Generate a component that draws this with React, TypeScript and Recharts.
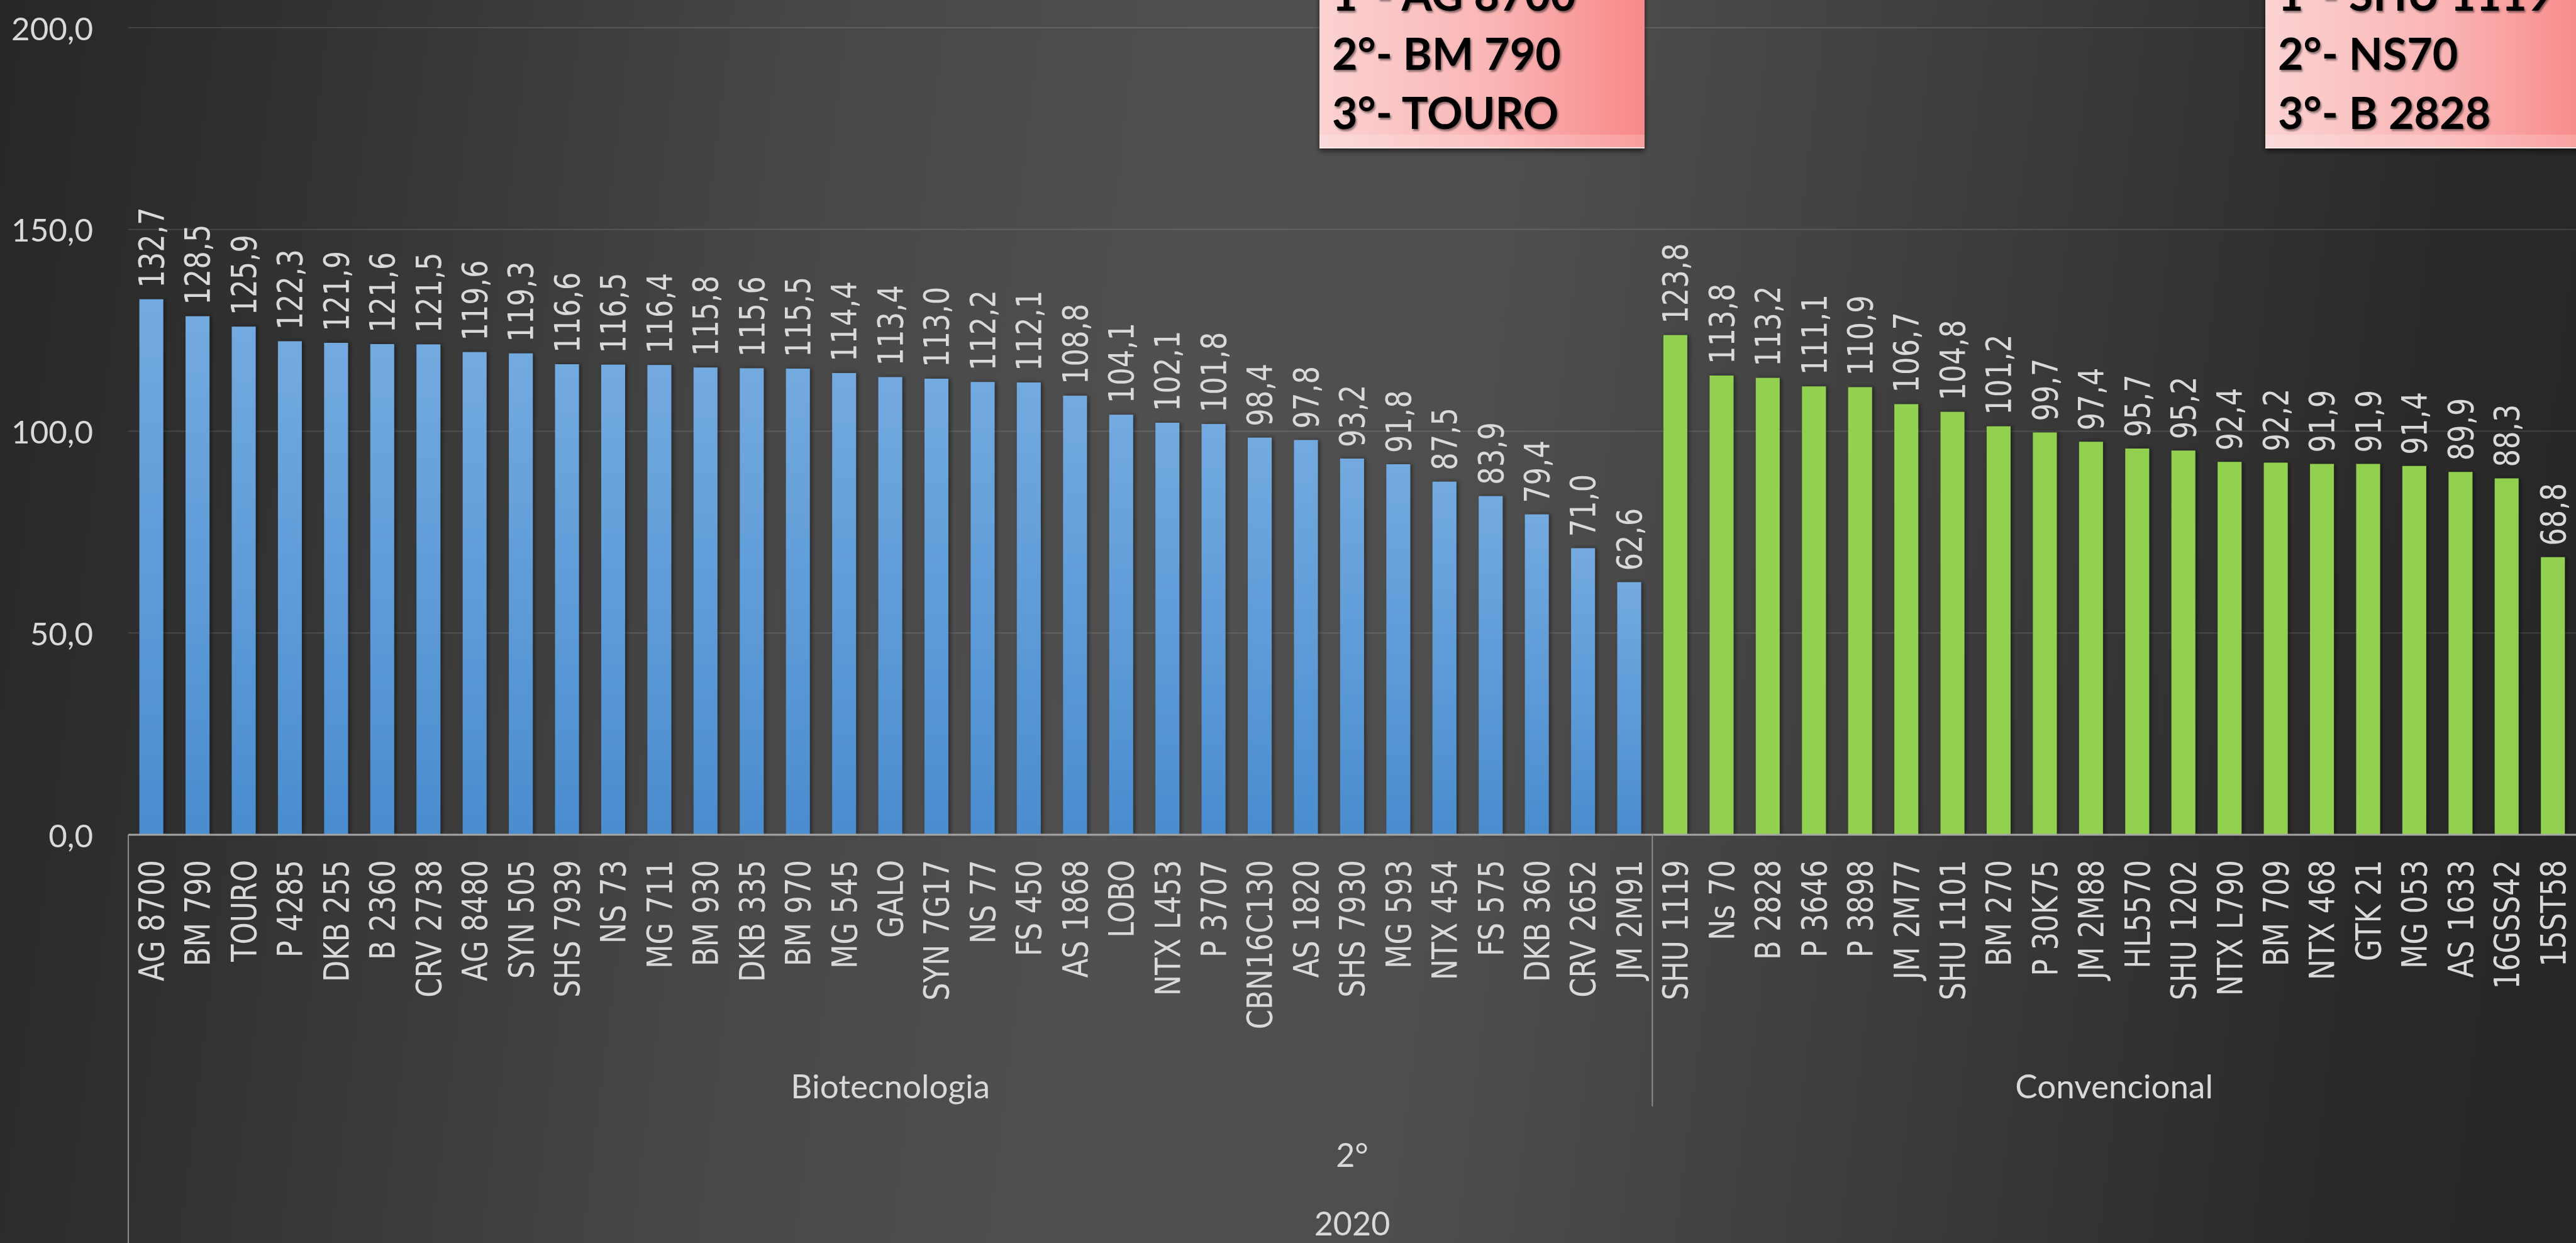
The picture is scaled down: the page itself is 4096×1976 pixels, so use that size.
import React from 'react';
import { BarChart, Bar, XAxis, YAxis, CartesianGrid, Cell, LabelList } from 'recharts';

// hybrids by group
const bioNames = [
  'AG 8700', 'BM 790', 'TOURO', 'P 4285', 'DKB 255', 'B 2360', 'CRV 2738', 'AG 8480', 'SYN 505',
  'SHS 7939', 'NS 73', 'MG 711', 'BM 930', 'DKB 335', 'BM 970', 'MG 545', 'GALO', 'SYN 7G17',
  'NS 77', 'FS 450', 'AS 1868', 'LOBO', 'NTX L453', 'P 3707', 'CBN16C130', 'AS 1820', 'SHS 7930',
  'MG 593', 'NTX 454', 'FS 575', 'DKB 360', 'CRV 2652', 'JM 2M91',
];
const bioValues = [
  132.7, 128.5, 125.9, 122.3, 121.9, 121.6, 121.5, 119.6, 119.3, 116.6, 116.5, 116.4, 115.8,
  115.6, 115.5, 114.4, 113.4, 113.0, 112.2, 112.1, 108.8, 104.1, 102.1, 101.8, 98.4, 97.8, 93.2,
  91.8, 87.5, 83.9, 79.4, 71.0, 62.6,
];
const convNames = [
  'SHU 1119', 'Ns 70', 'B 2828', 'P 3646', 'P 3898', 'JM 2M77', 'SHU 1101', 'BM 270', 'P 30K75',
  'JM 2M88', 'HL5570', 'SHU 1202', 'NTX L790', 'BM 709', 'NTX 468', 'GTK 21', 'MG 053', 'AS 1633',
  '16GSS42', '15ST58',
];
const convValues = [
  123.8, 113.8, 113.2, 111.1, 110.9, 106.7, 104.8, 101.2, 99.7, 97.4, 95.7, 95.2, 92.4, 92.2,
  91.9, 91.9, 91.4, 89.9, 88.3, 68.8,
];
const groupNames = ['Biotecnologia', 'Convencional'];
const yTicks = [0, 50, 100, 150, 200];
const positionLabel = '2°';
const yearLabel = '2020';
const bioPodium = ['1°- AG 8700', '2°- BM 790', '3°- TOURO'];
const convPodium = ['1°- SHU 1119', '2°- NS70', '3°- B 2828'];

const W = 4096;
const H = 1976;
const Y_AXIS_W = 204;
const TOP = 44;
const X_AXIS_H = 649;

const data = [
  ...bioNames.map((name, i) => ({ name, value: bioValues[i], group: 0 })),
  ...convNames.map((name, i) => ({ name, value: convValues[i], group: 1 })),
];
const pitch = (W - Y_AXIS_W) / data.length;

const fmt = (v: number) => v.toFixed(1).replace('.', ',');

const LABEL = '#d9d9d9';
const SANS = 'Lato, "Open Sans", sans-serif';
const WIDE = '"DejaVu Sans", Verdana, sans-serif';

function YTick({ x, y, payload }: any) {
  return (
    <text x={x} y={y} textAnchor="end" dominantBaseline="central" fill={LABEL} fontFamily={SANS} fontSize={51}>
      {fmt(payload.value)}
    </text>
  );
}

function CategoryTick({ x, y, payload, index }: any) {
  const d = data[index];
  const start = data.findIndex(r => r.group === d.group);
  const count = data.filter(r => r.group === d.group).length;
  const mid = start + Math.floor((count - 1) / 2);
  const allMid = Math.floor((data.length - 1) / 2);
  return (
    <g>
      <text
        transform={`translate(${x},${y + 40}) rotate(-90) scale(0.8,1)`}
        textAnchor="end"
        dominantBaseline="central"
        fill={LABEL}
        fontFamily={WIDE}
        fontSize={56}
      >
        {payload.value}
      </text>
      {index === 0 && (
        <line x1={x - pitch / 2} x2={x - pitch / 2} y1={y} y2={H} stroke="#8c8c8c" strokeWidth={2} />
      )}
      {index > 0 && index === start && (
        <line x1={x - pitch / 2} x2={x - pitch / 2} y1={y} y2={y + 432} stroke="#8c8c8c" strokeWidth={2} />
      )}
      {index === mid && (
        <text
          x={x + (count % 2 === 0 ? pitch / 2 : 0)}
          y={y + 398}
          textAnchor="middle"
          dominantBaseline="central"
          fill={LABEL}
          fontFamily={SANS}
          fontSize={53}
        >
          {groupNames[d.group]}
        </text>
      )}
      {index === allMid && (
        <g fill={LABEL} fontFamily={SANS} fontSize={52} textAnchor="middle" dominantBaseline="central">
          <text x={x} y={y + 508}>{positionLabel}</text>
          <text x={x} y={y + 617}>{yearLabel}</text>
        </g>
      )}
    </g>
  );
}

function ValueLabel({ x, y, width, value }: any) {
  return (
    <text
      transform={`translate(${x + width / 2},${y - 18}) rotate(-90) scale(0.8,1)`}
      textAnchor="start"
      dominantBaseline="central"
      fill={LABEL}
      fontFamily={WIDE}
      fontSize={56}
    >
      {fmt(value)}
    </text>
  );
}

function PodiumBox({ x, width, lines }: { x: number; width: number; lines: string[] }) {
  return (
    <g>
      <rect x={x} y={-20} width={width} height={256} fill="url(#boxGrad)" filter="url(#boxShadow)" />
      <rect x={x} y={214} width={width} height={22} fill="#ffffff" opacity={0.18} />
      <line x1={x} x2={x + width} y1={235} y2={235} stroke="#fde8e8" strokeWidth={2} />
      <g fontFamily={SANS} fontWeight={700} fontSize={70} fill="#000" filter="url(#textShadow)">
        {lines.map((t, i) => (
          <text key={t} x={x + 20} y={17 + i * 94}>{t}</text>
        ))}
      </g>
    </g>
  );
}

export default function App() {
  return (
    <div
      style={{
        position: 'fixed',
        left: 0,
        top: 0,
        width: W,
        height: H,
        overflow: 'hidden',
        background:
          'linear-gradient(97deg, #272727 0%, #303030 10%, #474747 30%, #505050 45%, #4e4e4e 57%, #3c3c3c 74%, #2a2a2a 90%, #262626 100%)',
      }}
    >
      <BarChart
        width={W}
        height={H}
        data={data}
        margin={{ top: TOP, right: 0, left: 0, bottom: 0 }}
        barCategoryGap="24%"
      >
        <defs>
          <linearGradient id="blueGrad" x1="0" y1="0" x2="0" y2="1">
            <stop offset="0%" stopColor="#73aae0" />
            <stop offset="100%" stopColor="#4a8dcf" />
          </linearGradient>
          <filter id="barShadow" x="-30%" y="-5%" width="160%" height="110%">
            <feDropShadow dx="3" dy="0" stdDeviation="3" floodColor="#000" floodOpacity="0.45" />
          </filter>
        </defs>
        <CartesianGrid vertical={false} stroke="rgba(255,255,255,0.12)" strokeWidth={2} />
        <YAxis
          domain={[0, 200]}
          ticks={yTicks}
          interval={0}
          width={Y_AXIS_W}
          axisLine={false}
          tickLine={false}
          tickSize={0}
          tickMargin={56}
          tick={(p: any) => <YTick {...p} />}
        />
        <XAxis
          dataKey="name"
          interval={0}
          height={X_AXIS_H}
          tickLine={false}
          tickSize={0}
          tickMargin={0}
          axisLine={{ stroke: '#a6a6a6', strokeWidth: 3 }}
          tick={(p: any) => <CategoryTick {...p} />}
        />
        <Bar dataKey="value" isAnimationActive={false}>
          {data.map(d => (
            <Cell key={d.name} fill={d.group === 0 ? 'url(#blueGrad)' : '#92d050'} filter="url(#barShadow)" />
          ))}
          <LabelList dataKey="value" content={(p: any) => <ValueLabel {...p} />} />
        </Bar>
      </BarChart>
      <svg width={W} height={H} style={{ position: 'absolute', left: 0, top: 0, pointerEvents: 'none' }}>
        <defs>
          <linearGradient id="boxGrad" x1="0" y1="0" x2="1" y2="0">
            <stop offset="0%" stopColor="#fbd2d2" />
            <stop offset="55%" stopColor="#fab4b4" />
            <stop offset="100%" stopColor="#f88888" />
          </linearGradient>
          <filter id="boxShadow" x="-5%" y="-10%" width="110%" height="125%">
            <feDropShadow dx="0" dy="4" stdDeviation="4" floodColor="#000" floodOpacity="0.6" />
          </filter>
          <filter id="textShadow" x="-5%" y="-20%" width="110%" height="140%">
            <feDropShadow dx="2" dy="3" stdDeviation="1.5" floodColor="#000" floodOpacity="0.45" />
          </filter>
        </defs>
        <PodiumBox x={2098} width={517} lines={bioPodium} />
        <PodiumBox x={3602} width={520} lines={convPodium} />
      </svg>
    </div>
  );
}
